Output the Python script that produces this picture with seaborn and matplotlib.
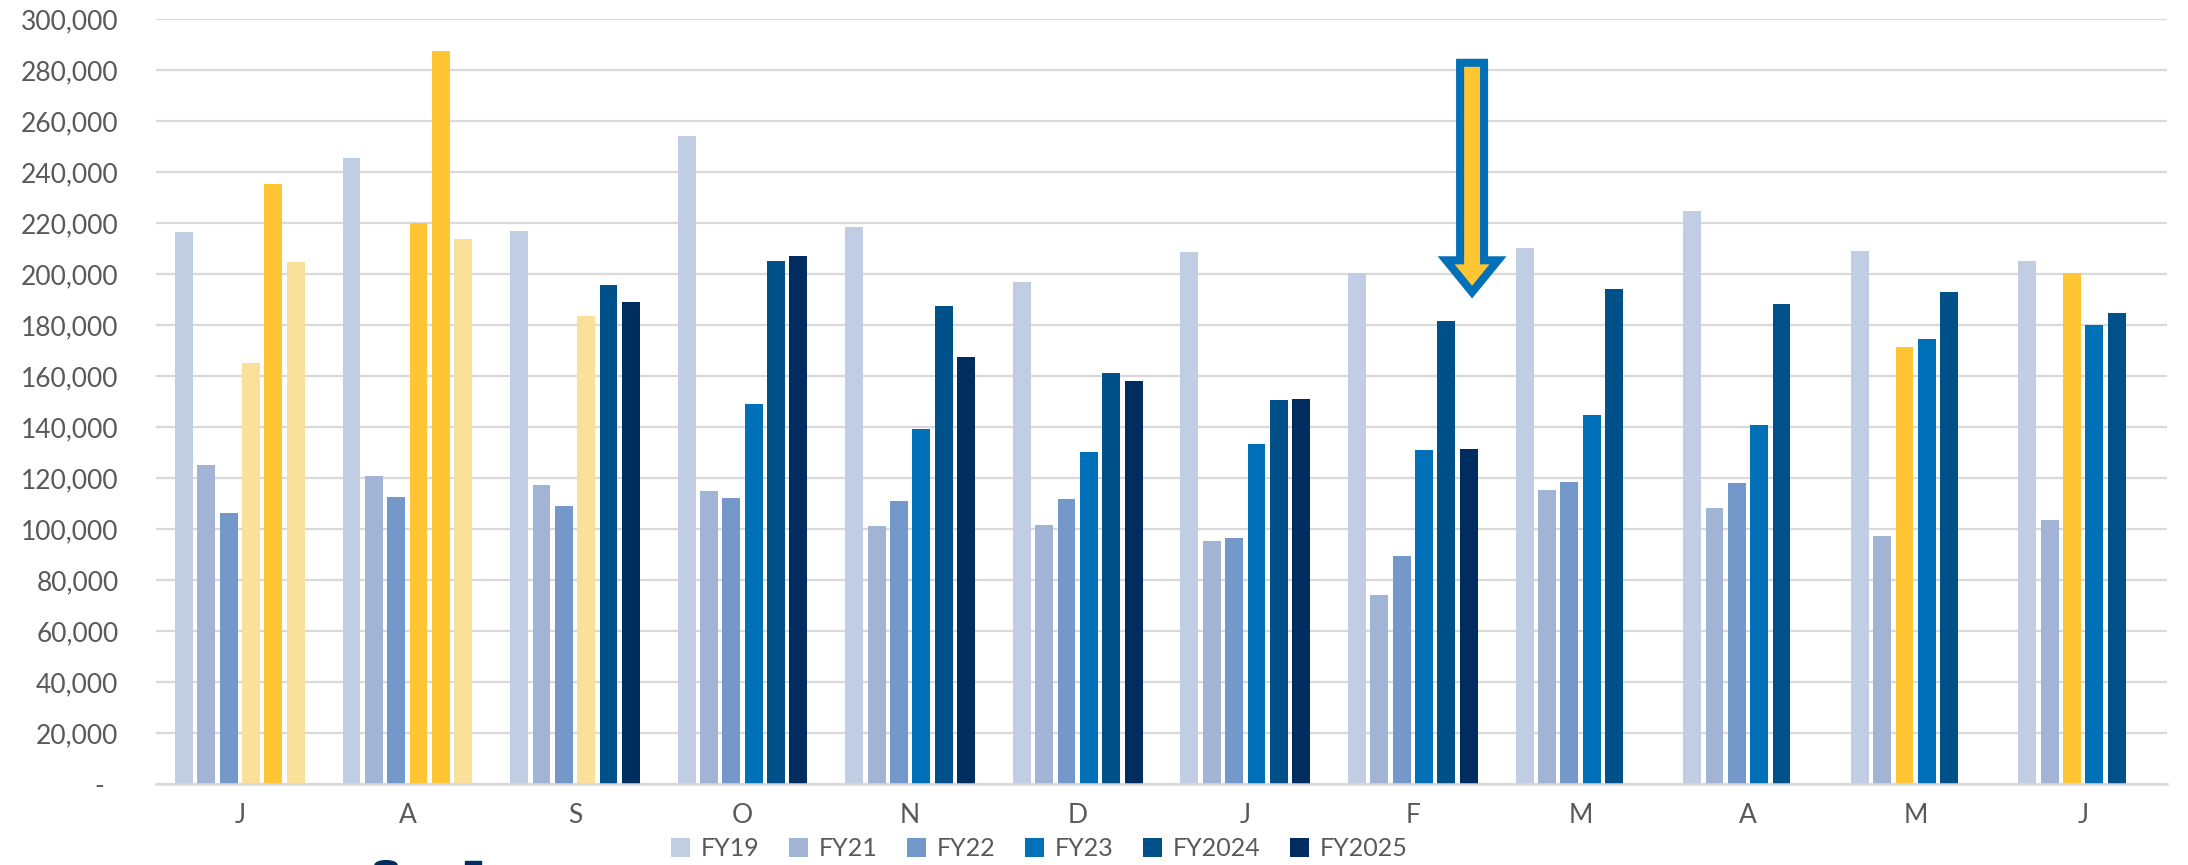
import numpy as np
import pandas as pd
import seaborn as sns
import matplotlib.pyplot as plt
from matplotlib.patches import FancyArrow, Circle, Rectangle
from matplotlib.ticker import FuncFormatter

# fiscal year months (Jul..Jun); keys must be unique, labels are single letters
MONTHS = ["Jul", "Aug", "Sep", "Oct", "Nov", "Dec", "Jan", "Feb", "Mar", "Apr", "May", "Jun"]
MONTH_LABELS = ["J", "A", "S", "O", "N", "D", "J", "F", "M", "A", "M", "J"]
SERIES = ["FY19", "FY21", "FY22", "FY23", "FY2024", "FY2025"]

FY19   = [216600, 245600, 217000, 254300, 218700, 197000, 208900, 200600, 210300, 224700, 209300, 205200]
FY21   = [125000, 121000, 117300, 114900, 101400, 101800,  95400,  74200, 115300, 108200,  97400, 103600]
FY22   = [106500, 112800, 109100, 112300, 111100, 111900,  96400,  89300, 118700, 118300, 171600, 200400]
FY23   = [165200, 220100, 183700, 149100, 139200, 130400, 133600, 131000, 144900, 140800, 174600, 180300]
FY2024 = [235600, 287800, 195900, 205200, 187700, 161400, 150700, 181500, 194400, 188300, 193200, 184900]
FY2025 = [204900, 214000, 189200, 207200, 167600, 158100, 150900, 131600, np.nan, np.nan, np.nan, np.nan]

PALETTE = ["#C0CDE3", "#A2B4D6", "#7598CA", "#0070B8", "#00518A", "#002D5F"]
GOLD, GOLD_LIGHT = "#FFC533", "#FBE09A"

# bars re-coloured in the original chart
HIGHLIGHT = {
    ("Jul", "FY23"): GOLD_LIGHT, ("Jul", "FY2024"): GOLD, ("Jul", "FY2025"): GOLD_LIGHT,
    ("Aug", "FY23"): GOLD, ("Aug", "FY2024"): GOLD, ("Aug", "FY2025"): GOLD_LIGHT,
    ("Sep", "FY23"): GOLD_LIGHT,
    ("May", "FY22"): GOLD, ("Jun", "FY22"): GOLD,
}

ARROW_MONTH, ARROW_SERIES = "Feb", "FY2025"
ARROW_TOP, ARROW_TIP = 283000, 193000

df = pd.DataFrame({"month": MONTHS, "FY19": FY19, "FY21": FY21, "FY22": FY22,
                   "FY23": FY23, "FY2024": FY2024, "FY2025": FY2025})
df = df.melt(id_vars="month", var_name="series", value_name="value").dropna()

plt.rcParams["font.family"] = ["Lato", "DejaVu Sans"]
fig, ax = plt.subplots(figsize=(21.88, 8.65), dpi=100)
fig.subplots_adjust(left=0.0713, right=0.9904, top=0.9775, bottom=0.0936)

sns.barplot(data=df, x="month", y="value", hue="series", order=MONTHS,
            hue_order=SERIES, palette=PALETTE, errorbar=None, gap=0.2,
            saturation=1, ax=ax, zorder=2)

arrow_x = None
for s, cont in zip(SERIES, ax.containers):
    for bar in cont:
        cx = bar.get_x() + bar.get_width() / 2
        m = MONTHS[int(round(cx))]
        if (m, s) in HIGHLIGHT:
            bar.set_facecolor(HIGHLIGHT[(m, s)])
        if (m, s) == (ARROW_MONTH, ARROW_SERIES):
            arrow_x = cx + 0.02

ax.set_ylim(0, 300000)
ax.set_yticks(np.arange(0, 300001, 20000))
ax.yaxis.set_major_formatter(FuncFormatter(lambda v, p: f"{v:,.0f}" if v else "-  "))
ax.set_xticks(range(len(MONTHS)))
ax.set_xticklabels(MONTH_LABELS)
ax.set_xlim(-0.5, len(MONTHS) - 0.5)
ax.set_xlabel("")
ax.set_ylabel("")

ax.grid(True, axis="y", color="#D9D9D9", linewidth=1.6, zorder=0)
ax.set_axisbelow(True)
for side in ("top", "right", "left"):
    ax.spines[side].set_visible(False)
ax.spines["bottom"].set_color("#D9D9D9")
ax.spines["bottom"].set_linewidth(1.8)
ax.tick_params(axis="both", length=0, labelsize=19, labelcolor="#595959")
ax.tick_params(axis="y", pad=27)
ax.tick_params(axis="x", pad=14)

# highlight arrow above the Feb FY2025 bar
if arrow_x is not None:
    ax.add_patch(FancyArrow(arrow_x, ARROW_TOP, 0, ARROW_TIP - ARROW_TOP, width=0.143,
                            head_width=0.31, head_length=12500, length_includes_head=True,
                            fc=GOLD, ec="#0070B9", lw=5.8, zorder=5, clip_on=False))

# legend below the plot
handles, labels = ax.get_legend_handles_labels()
ax.get_legend().remove()
fig.legend(handles, labels, loc="center", bbox_to_anchor=(0.475, 0.019), ncol=6,
           frameon=False, fontsize=18, handlelength=0.75, handleheight=0.75,
           handletextpad=0.42, columnspacing=1.2, labelcolor="#595959")

# clipped logo fragments at the lower edge
fig.add_artist(Circle((386 / 2188, 0), 11 / 2188, transform=fig.transFigure,
                      color="#002D5F", clip_on=False))
fig.add_artist(Rectangle((465 / 2188, 0), 16 / 2188, 4 / 865, transform=fig.transFigure,
                         color="#002D5F"))

fig.savefig("out.png", dpi=100)
